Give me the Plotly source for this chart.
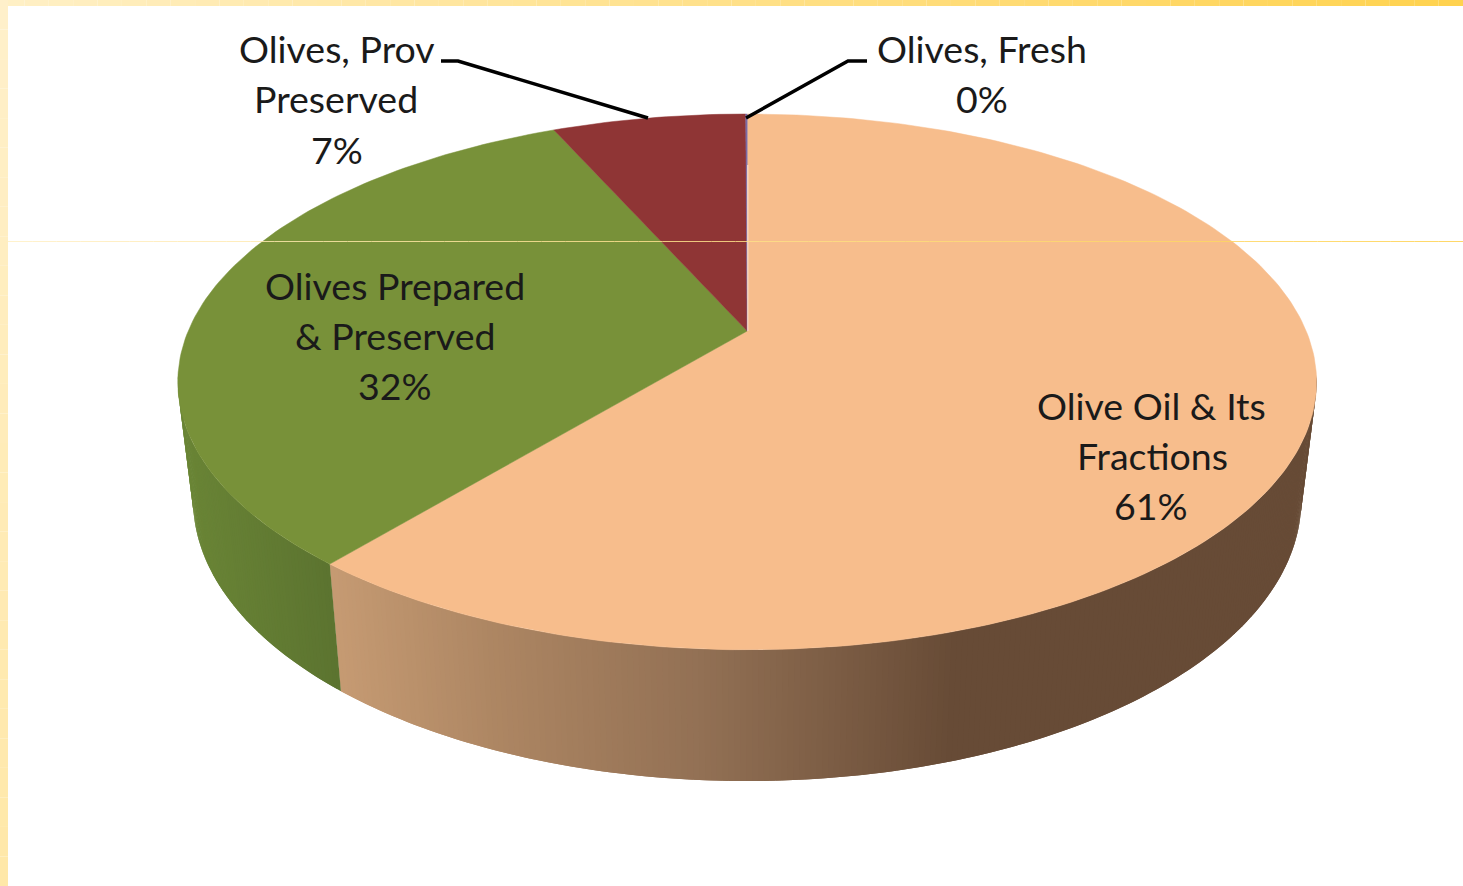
import numpy as np
import plotly.graph_objects as go

# Export shares by product group, in percent, clockwise from twelve o'clock
products = ["Olive Oil & Its Fractions", "Olives Prepared & Preserved", "Olives, Prov Preserved", "Olives, Fresh"]
shares = [61.0, 32.35, 6.6, 0.05]

top_colors = ["#F7BD8C", "#789139", "#8F3535", "#7A6AA6"]

# Side wall shading: colour as a function of horizontal position
wall_x = {0: [331, 500, 700, 950, 1320], 1: [185, 331]}
wall_rgb = {
    0: [(198, 155, 115), (172, 133, 98), (146, 112, 84), (103, 75, 54), (103, 75, 54)],
    1: [(106, 133, 54), (92, 116, 48)],
}
fallback_wall = {2: (100, 40, 40), 3: (90, 80, 130)}

# Frame gradient along the top edge
frame_x = [0, 400, 1100, 1463]
frame_rgb = [(255, 240, 198), (255, 231, 163), (255, 217, 108), (255, 210, 78)]

# Label lines and their placement
label_lines = [
    ("Olives, Prov", 336.5, 48.5), ("Preserved", 336, 98.5), (f"{round(shares[2])}%", 337, 149.5),
    ("Olives, Fresh", 981.5, 48.5), (f"{round(shares[3])}%", 982, 98.5),
    ("Olives Prepared", 394.5, 285.5), ("& Preserved", 395, 335.5), (f"{round(shares[1])}%", 395, 385.5),
    ("Olive Oil & Its", 1151, 405.5), ("Fractions", 1152, 455.5), (f"{round(shares[0])}%", 1151, 505.5),
]
leader_lines = [
    ([441, 458, 648], [61, 61, 118]),
    ([867, 848, 746], [61, 61, 118]),
]

# Perspective view of the disc: top face and bottom face
CX = 747.2
KP = 0.19
TOP = dict(a=559.0, b=258.2, y0=331.0)
BOTTOM = dict(a=544.0, b=270.9, y0=446.6)


def project(theta, face):
    u, v = np.sin(theta), np.cos(theta)
    w = 1 + KP * v
    return CX + face["a"] * u / w, face["y0"] - face["b"] * v / w


def band(x, y, color, width=0.0):
    return go.Scatter(
        x=x, y=y, mode="lines", fill="toself", fillcolor=color,
        line=dict(color=color, width=width), hoverinfo="skip", showlegend=False,
    )


def frame_color(x):
    r, g, b = [np.interp(x, frame_x, [c[j] for c in frame_rgb]) for j in range(3)]
    return f"rgb({round(r)},{round(g)},{round(b)})"


fig = go.Figure()

# Frame along the top and left edges, as stepped colour bands
for i in range(60):
    x0, x1 = i * 1463 / 60, (i + 1) * 1463 / 60
    fig.add_shape(type="rect", x0=x0, x1=x1, y0=0, y1=6, fillcolor=frame_color(0.5 * (x0 + x1)),
                  line_width=0, layer="below")
for i in range(30):
    y0, y1 = i * 886 / 30, (i + 1) * 886 / 30
    t = i / 29
    c = f"rgb(255,{round(240 - 8 * t)},{round(202 - 34 * t)})"
    fig.add_shape(type="rect", x0=0, x1=8, y0=y0, y1=y1, fillcolor=c, line_width=0, layer="below")

edges = np.concatenate([[0], np.cumsum(shares)]) / sum(shares) * 2 * np.pi

# Side wall: thin quads around the rim, each running slightly under the next one
for k in range(len(shares)):
    a0, a1 = edges[k], edges[k + 1]
    n = max(2, int(np.degrees(a1 - a0) / 0.5))
    th = np.linspace(a0, a1, n + 1)
    for i in range(n):
        mid = 0.5 * (th[i] + th[i + 1])
        if np.cos(mid) > -0.17:
            continue
        end = th[min(i + 2, n)]
        xt, yt = project(np.array([th[i], end]), TOP)
        xb, yb = project(np.array([end, th[i]]), BOTTOM)
        xm = 0.5 * (xt.mean() + xb.mean())
        if k in wall_x:
            rgb = [np.interp(xm, wall_x[k], [c[j] for c in wall_rgb[k]]) for j in range(3)]
        else:
            rgb = fallback_wall[k]
        col = f"rgb({round(rgb[0])},{round(rgb[1])},{round(rgb[2])})"
        fig.add_trace(band(list(xt) + list(xb) + [xt[0]], list(yt) + list(yb) + [yt[0]], col))

# Top face slices
for k in range(len(shares)):
    th = np.linspace(edges[k], edges[k + 1], max(3, int(np.degrees(edges[k + 1] - edges[k]))))
    xr, yr = project(th, TOP)
    fig.add_trace(band([CX] + list(xr) + [CX], [TOP["y0"]] + list(yr) + [TOP["y0"]], top_colors[k], width=0.5))

# Pale seam where the thin slice meets the largest one
fig.add_trace(go.Scatter(
    x=[CX + 0.6, CX + 0.6], y=[TOP["y0"], 165], mode="lines",
    line=dict(color="#F9DCCB", width=1.2), hoverinfo="skip", showlegend=False,
))

# Leader lines for the two outside labels
for lx, ly in leader_lines:
    fig.add_trace(go.Scatter(
        x=lx, y=ly, mode="lines", line=dict(color="#000000", width=3.5),
        hoverinfo="skip", showlegend=False,
    ))

# Hairline across the panel, sharing the frame's gradient
for i in range(60):
    x0, x1 = 8 + i * 1455 / 60, 8 + (i + 1) * 1455 / 60
    fig.add_shape(type="line", x0=x0, x1=x1, y0=241.5, y1=241.5,
                  line=dict(color=frame_color(0.5 * (x0 + x1)), width=1), opacity=0.85, layer="above")

for text, x, y in label_lines:
    fig.add_annotation(
        x=x, y=y, text=text, showarrow=False, xanchor="center", yanchor="middle",
        font=dict(family="Lato", size=37.5, color="#1a1a1a"),
    )

fig.update_xaxes(visible=False, range=[0, 1463], fixedrange=True)
fig.update_yaxes(visible=False, range=[886, 0], fixedrange=True)
fig.update_layout(
    width=1463, height=886, margin=dict(l=0, r=0, t=0, b=0),
    paper_bgcolor="#ffffff", plot_bgcolor="#ffffff", showlegend=False,
)
fig.write_html("out.html", config={"displayModeBar": False})
